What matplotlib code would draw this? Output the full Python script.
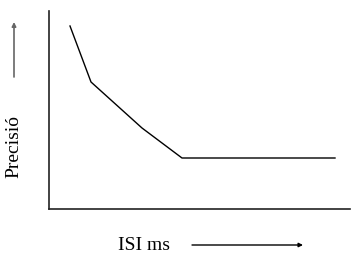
import matplotlib
matplotlib.use('Agg')
import matplotlib.pyplot as plt

plt.rcParams['font.family'] = ['Liberation Serif', 'DejaVu Serif']

# corbes llegides del grafic (unitats arbitraries)
isi = [21, 42, 93, 133, 286]
precisio = [183, 127, 81, 51, 51]

W, H = 353, 257
fig = plt.figure(figsize=(W / 100, H / 100), dpi=100)
ax = fig.add_axes([49 / W, 48 / H, 301 / W, 198 / H])

ax.plot(isi, precisio, color='black', lw=1.0)
ax.set_xlim(0, 301)
ax.set_ylim(0, 198)
ax.set_xticks([])
ax.set_yticks([])
for s in ['top', 'right']:
    ax.spines[s].set_visible(False)
for s in ['left', 'bottom']:
    ax.spines[s].set_color('#222222')
    ax.spines[s].set_linewidth(1.2)

fig.text(14 / W, 1 - 146 / H, 'Precisió', rotation=90, ha='center', va='center', fontsize=14)
fig.text(143.5 / W, 1 - 246 / H, 'ISI ms', ha='center', va='center', fontsize=14)

ax.annotate('', xy=(14 / W, 1 - 22 / H), xytext=(14 / W, 1 - 77 / H),
            xycoords='figure fraction', textcoords='figure fraction',
            arrowprops=dict(arrowstyle='-|>', color='#666666', lw=1.2, mutation_scale=6,
                            shrinkA=0, shrinkB=0))
ax.annotate('', xy=(303 / W, 1 - 245 / H), xytext=(192 / W, 1 - 245 / H),
            xycoords='figure fraction', textcoords='figure fraction',
            arrowprops=dict(arrowstyle='-|>', color='black', lw=1.0, mutation_scale=6,
                            shrinkA=0, shrinkB=0))

fig.savefig('out.png', dpi=100)
